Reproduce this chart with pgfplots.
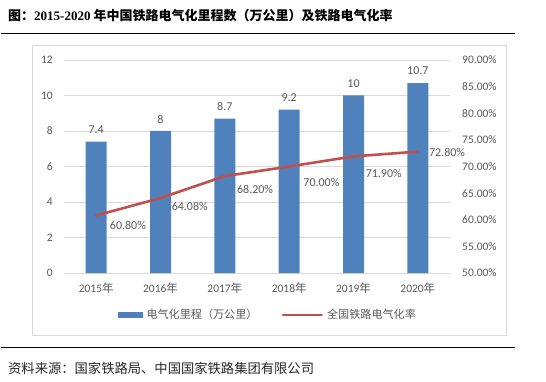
\documentclass[border=0pt]{standalone}
\usepackage{pgfplots}
\pgfplotsset{compat=1.18}
\usepackage{fontspec}
\setmainfont{Carlito}
\newfontfamily\cjk{Noto Sans CJK SC}
\newfontfamily\tnr{Liberation Serif}
\definecolor{barblue}{HTML}{4F81BD}
\definecolor{linered}{HTML}{C0504D}
\definecolor{textgray}{HTML}{595959}
\definecolor{gridgray}{HTML}{D9D9D9}
\definecolor{srcgray}{HTML}{262626}
\begin{document}
\begin{tikzpicture}
\path[use as bounding box] (0pt,0pt) rectangle (546pt,381pt);
\draw[gridgray, line width=0.8pt] (32pt,46pt) rectangle (506pt,336pt);
\draw[black, line width=1pt] (1pt,347pt) -- (515pt,347pt);
\draw[black, line width=1pt] (1pt,34pt) -- (515pt,34pt);
\node[anchor=west, inner sep=0pt, font=\fontsize{13}{13}\selectfont\bfseries] at (8pt,365pt) {{\cjk 图：}{\tnr 2015-2020}{\cjk\ 年中国铁路电气化里程数（万公里）及铁路电气化率}};
\node[anchor=west, inner sep=0pt, font=\fontsize{13.3}{13.3}\selectfont, text=srcgray] at (8pt,13pt) {\cjk 资料来源：国家铁路局、中国国家铁路集团有限公司};

\begin{axis}[
  at={(64pt,108pt)}, anchor=south west,
  scale only axis, width=386pt, height=213pt,
  xmin=-0.5, xmax=5.5, ymin=0, ymax=12,
  xtick={0,...,5},
  xticklabels={2015{\cjk 年},2016{\cjk 年},2017{\cjk 年},2018{\cjk 年},2019{\cjk 年},2020{\cjk 年}},
  ytick={0,2,...,12},
  ymajorgrids, grid style={gridgray, line width=0.8pt},
  axis line style={draw=none},
  major tick length=0pt,
  tick label style={font=\fontsize{11.5}{12}\selectfont, text=textgray, inner sep=0pt},
  yticklabel style={xshift=-11pt},
  xticklabel style={anchor=center, yshift=-15pt},
  /pgf/number format/assume math mode=true,
  ybar, bar width=21pt,
  nodes near coords,
  every node near coord/.append style={font=\fontsize{12}{12}\selectfont, text=textgray, anchor=center, inner sep=0pt, yshift=12pt},
  clip=false,
]
\addplot[fill=barblue, draw=none] coordinates {(0,7.4) (1,8) (2,8.7) (3,9.2) (4,10) (5,10.7)};
\end{axis}

\begin{axis}[
  at={(64pt,108pt)}, anchor=south west,
  scale only axis, width=386pt, height=213pt,
  xmin=-0.5, xmax=5.5, ymin=50, ymax=90,
  hide x axis,
  axis y line*=right,
  axis line style={draw=none},
  major tick length=0pt,
  ytick={50,55,...,90},
  yticklabel={\pgfmathprintnumber[fixed,fixed zerofill,precision=2,assume math mode=true]{\tick}\%},
  yticklabel style={font=\fontsize{11.5}{12}\selectfont, text=textgray, inner sep=0pt, anchor=west, xshift=12pt},
  clip=false,
  legend style={at={(0.526,-0.197)}, anchor=center, draw=none, fill=none,
    font=\fontsize{11.1}{12}\selectfont, text=textgray,
    nodes={inner sep=0pt},
    /tikz/every odd column/.append style={column sep=4pt},
    /tikz/every even column/.append style={column sep=24pt}},
  legend columns=2,
]
\addlegendimage{legend image code/.code={\fill[barblue] (0pt,-2.5pt) rectangle (24pt,2.5pt);}}
\addlegendentry{\cjk 电气化里程（万公里）}
\addplot[linered, line width=2.6pt, line cap=round, line join=round, mark=none,
  legend image code/.code={\path (0pt,0pt) -- (14pt,0pt); \draw[linered, line width=2.6pt] (14pt,0pt) -- (39pt,0pt);},
  nodes near coords={\pgfmathprintnumber[fixed,fixed zerofill,precision=2,assume math mode=true]{\pgfplotspointmeta}\%},
  visualization depends on={\thisrow{dx} \as \dx},
  visualization depends on={\thisrow{dy} \as \dy},
  every node near coord/.style={anchor=west, inner sep=0pt, xshift=\dx pt, yshift=-\dy pt, font=\fontsize{12}{12}\selectfont, text=textgray},
] table {
x y dx dy
0 60.80 12.5 10
1 64.08 10 8
2 68.20 11 13
3 70.00 13 16
4 71.90 11 17
5 72.80 10 1
};
\addlegendentry{\cjk 全国铁路电气化率}
\end{axis}
\end{tikzpicture}
\end{document}
